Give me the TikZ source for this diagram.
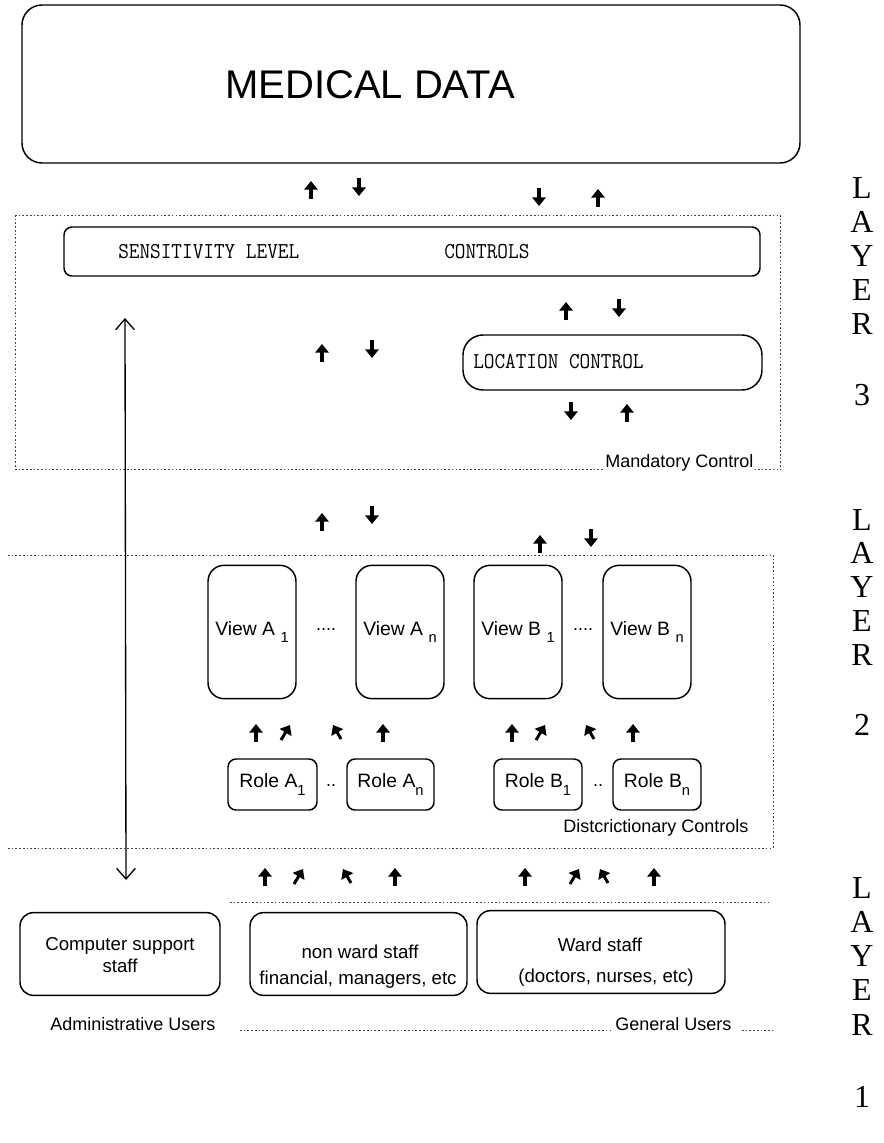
\documentclass[tikz,border=0pt]{standalone}
\usepackage{fontspec}
\setmainfont{Liberation Sans}
\newfontfamily\serifL{Liberation Serif}
\usetikzlibrary{arrows.meta}
\begin{document}
\begin{tikzpicture}[x=0.75pt,y=-0.75pt,
  box/.style={draw, line width=1.1pt, rounded corners=#1, inner sep=0pt},
  box/.default=8pt,
  dotl/.style={line width=0.6pt, dash pattern=on 1.2pt off 1.6pt, black!75},
  blk/.style={line width=2.4pt, -{Triangle[width=10pt,length=6.5pt]}},
  txt/.style={inner sep=0pt, font=\fontsize{13.5}{16}\selectfont},
  mono/.style={inner sep=0pt, font=\ttfamily\fontsize{15.5}{17}\selectfont},
  lay/.style={inner sep=0pt, font=\serifL\fontsize{24}{26}\selectfont}]
\useasboundingbox (0,0) rectangle (884,1143);

% ---- top: medical data
\node[box=15pt, minimum width=583.5pt, minimum height=118.5pt] (md) at (411,84) {};
\node[inner sep=0pt, font=\fontsize{30}{32}\selectfont] (mdt) at (370,85) {MEDICAL DATA};

% ---- layer 3 frame
\draw[dotl] (15,215) -- (780,215);
\draw[dotl] (15,215) -- (15,469);
\draw[dotl] (780,215) -- (780,469);
\draw[dotl] (15,469) -- (780,469);
\node[txt, anchor=base east, fill=white, inner xsep=1pt] (mand) at (755,467) {Mandatory Control};

\node[box=6pt, minimum width=522pt, minimum height=36.75pt] (sens) at (412,251.5) {};
\node[mono, anchor=west] (senst) at (118,252) {\scalebox{1}[1.1]{SENSITIVITY LEVEL}};
\node[mono, anchor=west] (ctrl) at (444,252) {\scalebox{1}[1.1]{CONTROLS}};

\node[box=15pt, minimum width=224.25pt, minimum height=41.25pt] (loc) at (612.5,362.5) {};
\node[mono, anchor=west] (loct) at (473,362) {\scalebox{1}[1.1]{LOCATION CONTROL}};

% ---- thick arrows (vertical)
\foreach \x/\a/\b in {311/199/181, 359/178/196, 539/188/206, 598/207/189,
                      566/320/302, 619/299/317, 571/402/420, 627/422/404,
                      322/362/344, 372/340/358,
                      322/531/513, 372/506/524, 540/553/535, 591/529/547,
                      256/742/724, 383/742/724, 512/742/724, 633/742/724,
                      265/886/868, 395/886/868, 525/886/868, 654/886/868}
  \draw[blk] (\x,\a) -- (\x,\b);
% ---- thick arrows (diagonal)
\foreach \xa/\ya/\xb/\yb in {281/740/290/725, 341/739/333/725,
                             536/740/545/725, 594/739/586/725,
                             294/884/303/869, 351/883/343/869,
                             570/884/579/869, 608/883/600/869}
  \draw[blk, line width=2.2pt] (\xa,\ya) -- (\xb,\yb);

% ---- long double arrow
\coordinate (la) at (125,318);
\coordinate (lb) at (126,880);
\draw[line width=1pt, {Straight Barb[width=14pt,length=8pt]}-{Straight Barb[width=14pt,length=8pt]}] (la) -- (lb);

% ---- layer 2 frame
\draw[dotl] (8,555) -- (773,555);
\draw[dotl] (773,555) -- (773,848);
\draw[dotl] (8,848) -- (773,848);

\node[box=12pt, minimum width=66pt, minimum height=100pt] (va1) at (252,632) {};
\node[box=12pt, minimum width=66pt, minimum height=100pt] (van) at (400,632) {};
\node[box=12pt, minimum width=66pt, minimum height=100pt] (vb1) at (518,632) {};
\node[box=12pt, minimum width=66pt, minimum height=100pt] (vbn) at (647,632) {};
\node[txt, font=\fontsize{14.5}{16}\selectfont] at (va1) {View A\ \raisebox{-0.7ex}{\fontsize{11}{12}\selectfont 1}};
\node[txt, font=\fontsize{14.5}{16}\selectfont] at (van) {View A\ \raisebox{-0.7ex}{\fontsize{11}{12}\selectfont n}};
\node[txt, font=\fontsize{14.5}{16}\selectfont] at (vb1) {View B\ \raisebox{-0.7ex}{\fontsize{11}{12}\selectfont 1}};
\node[txt, font=\fontsize{14.5}{16}\selectfont] at (vbn) {View B\ \raisebox{-0.7ex}{\fontsize{11}{12}\selectfont n}};
\node[txt] (d1) at (326,630) {....};
\node[txt] (d2) at (583,630) {....};

\node[box=6pt, minimum width=66.75pt, minimum height=38.25pt] (ra1) at (272.5,784.5) {};
\node[box=6pt, minimum width=65.25pt, minimum height=38.25pt] (ran) at (390.5,784.5) {};
\node[box=6pt, minimum width=66pt, minimum height=38.25pt] (rb1) at (538,784.5) {};
\node[box=6pt, minimum width=66pt, minimum height=38.25pt] (rbn) at (657,784.5) {};
\node[txt, font=\fontsize{14.5}{16}\selectfont] at (ra1) {Role A\raisebox{-0.8ex}{\fontsize{11}{12}\selectfont 1}};
\node[txt, font=\fontsize{14.5}{16}\selectfont] at (ran) {Role A\raisebox{-0.8ex}{\fontsize{11}{12}\selectfont n}};
\node[txt, font=\fontsize{14.5}{16}\selectfont] at (rb1) {Role B\raisebox{-0.8ex}{\fontsize{11}{12}\selectfont 1}};
\node[txt, font=\fontsize{14.5}{16}\selectfont] at (rbn) {Role B\raisebox{-0.8ex}{\fontsize{11}{12}\selectfont n}};
\node[txt] (d3) at (331,786) {..};
\node[txt] (d4) at (598,786) {..};
\node[txt] (disc) at (656,828) {Distcrictionary Controls};

% ---- layer 1
\draw[dotl] (230,902) -- (770,902);
\node[box=10pt, minimum width=150pt, minimum height=62pt] (cs) at (120,954) {};
\node[box=10pt, minimum width=162.75pt, minimum height=62pt] (nw) at (358.5,954) {};
\node[box=10pt, minimum width=186pt, minimum height=62pt] (ws) at (601,952) {};
\node[txt, align=center, font=\fontsize{14}{17}\selectfont] at (120,955) {Computer support\\staff};
\node[txt, font=\fontsize{14}{17}\selectfont] at (360,952) {non ward staff};
\node[txt, font=\fontsize{14}{17}\selectfont] at (358,980) {financial, managers, etc};
\node[txt, font=\fontsize{14}{17}\selectfont] at (600,945) {Ward staff};
\node[txt, font=\fontsize{14}{17}\selectfont] at (606,978) {(doctors, nurses, etc)};

\node[txt, anchor=base west] (adm) at (50,1030) {Administrative Users};
\draw[dotl] (240,1030) -- (612,1030);
\node[txt, anchor=base west] (gen) at (615,1030) {General Users};
\draw[dotl] (742,1030) -- (775,1030);

% ---- layer labels
\foreach \ch/\y in {L/188, A/222, Y/256, E/290, R/324, 3/395,
                    L/520, A/553, Y/587, E/621, R/655, 2/725,
                    L/888, A/922, Y/956, E/990, R/1025, 1/1097}
  \node[lay] at (862,\y) {\ch};
\end{tikzpicture}
\end{document}
